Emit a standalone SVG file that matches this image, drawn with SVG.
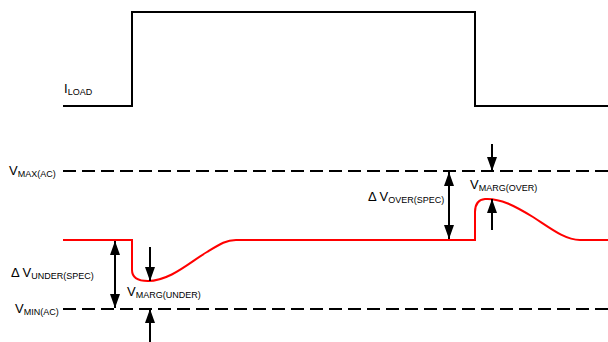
<svg xmlns="http://www.w3.org/2000/svg" width="608" height="342" viewBox="0 0 608 342">
<defs>
<style>
.t{font-family:"Liberation Sans",Arial,sans-serif;font-size:13px;fill:#000}
.s{font-size:9px}
.blk{fill:none;stroke:#000;stroke-width:2}
.dash{fill:none;stroke:#000;stroke-width:2;stroke-dasharray:13 6}
.red{fill:none;stroke:#f00;stroke-width:2}
.arr{fill:none;stroke:#000;stroke-width:2}
</style>
<marker id="ah" viewBox="0 0 14 10" refX="14" refY="5" markerWidth="14" markerHeight="10" markerUnits="userSpaceOnUse" orient="auto-start-reverse">
<path d="M0,0 L14,5 L0,10 Z" fill="#000"/>
</marker>
</defs>
<g id="iload">
<path class="blk" d="M63,106 H132 V12 H475 V106 H608"/>
<text class="t" x="64" y="93">I<tspan class="s" dy="2">LOAD</tspan></text>
</g>
<g id="vmax">
<line class="dash" x1="63" y1="171" x2="608" y2="171"/>
<text class="t" x="9" y="175">V<tspan class="s" dy="2">MAX(AC)</tspan></text>
</g>
<g id="vmin">
<line class="dash" x1="63" y1="309" x2="608" y2="309"/>
<text class="t" x="15" y="313">V<tspan class="s" dy="2">MIN(AC)</tspan></text>
</g>
<g id="vout">
<path class="red" d="M63,240 H132 V270 Q132,281 148,281 C170,281 190,262 207,252 C220,244 226,240 236,240 H475 V212 Q475,200 485,199 C500,198 515,206 533,217 C550,228 565,240 580,240 H608"/>
</g>
<g id="connectors">
<line class="arr" x1="115" y1="241" x2="115" y2="308" marker-start="url(#ah)" marker-end="url(#ah)"/>
<line class="arr" x1="150" y1="247" x2="150" y2="281" marker-end="url(#ah)"/>
<line class="arr" x1="150" y1="342" x2="150" y2="309" marker-end="url(#ah)"/>
<line class="arr" x1="449" y1="172" x2="449" y2="239" marker-start="url(#ah)" marker-end="url(#ah)"/>
<line class="arr" x1="492" y1="144" x2="492" y2="171" marker-end="url(#ah)"/>
<line class="arr" x1="492" y1="230" x2="492" y2="199" marker-end="url(#ah)"/>
</g>
<g id="labels">
<text class="t" x="11" y="277">Δ V<tspan class="s" dy="2">UNDER(SPEC)</tspan></text>
<text class="t" x="127" y="296">V<tspan class="s" dy="2">MARG(UNDER)</tspan></text>
<text class="t" x="368" y="201">Δ V<tspan class="s" dy="2">OVER(SPEC)</tspan></text>
<text class="t" x="470" y="189">V<tspan class="s" dy="2">MARG(OVER)</tspan></text>
</g>
</svg>
